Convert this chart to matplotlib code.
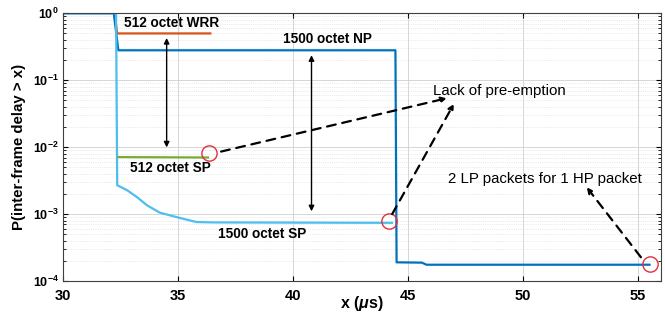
import matplotlib
matplotlib.use("Agg")
import matplotlib.pyplot as plt
import numpy as np

plt.rcParams['font.family'] = ['Liberation Sans', 'DejaVu Sans']
plt.rcParams['mathtext.fontset'] = 'custom'
plt.rcParams['mathtext.it'] = 'Liberation Sans:italic:bold'
plt.rcParams['mathtext.rm'] = 'Liberation Sans:bold'
plt.rcParams['mathtext.bf'] = 'Liberation Sans:bold'

# Data (x in microseconds, y = CCDF)
np_x = [30, 32.2, 32.4, 44.45, 44.5, 45.6, 45.8, 55.5]
np_y = [1.0, 1.0, 0.28, 0.28, 1.9e-4, 1.88e-4, 1.75e-4, 1.75e-4]

sp1500_x = [30, 32.3, 32.35, 32.8, 33.2, 33.65, 34.2, 35.1, 35.8, 36.5, 44.3]
sp1500_y = [1.0, 1.0, 2.7e-3, 2.25e-3, 1.8e-3, 1.35e-3, 1.05e-3, 8.7e-4, 7.6e-4, 7.5e-4, 7.4e-4]

wrr512_x = [32.25, 32.35, 36.4]
wrr512_y = [0.9, 0.5, 0.5]

sp512_x = [32.4, 36.3]
sp512_y = [7.1e-3, 7.0e-3]

circles_x = [36.35, 44.15, 55.5]
circles_y = [8.1e-3, 7.9e-4, 1.78e-4]

yticks = [1e-4, 1e-3, 1e-2, 1e-1, 1]
ytick_labels = [r'$\mathbf{10^{-4}}$', r'$\mathbf{10^{-3}}$', r'$\mathbf{10^{-2}}$',
                r'$\mathbf{10^{-1}}$', r'$\mathbf{10^{0}}$']
xticks = [30, 35, 40, 45, 50, 55]

fig = plt.figure(figsize=(6.65, 3.12), dpi=100)
ax = fig.add_axes([0.095, 0.0994, 0.899, 0.858])

c_np = '#0072BD'
c_sp = '#4DBEEE'
c_wrr = '#D95319'
c_sp512 = '#77AC30'

ax.plot(wrr512_x, wrr512_y, color=c_wrr, lw=1.6)
ax.plot(np_x, np_y, color=c_np, lw=1.6)
ax.plot(sp1500_x, sp1500_y, color=c_sp, lw=1.6)
ax.plot(sp512_x, sp512_y, color=c_sp512, lw=1.6)

ax.set_yscale('log')
ax.set_xlim(30, 56)
ax.set_ylim(1e-4, 1)
ax.set_xticks(xticks)
ax.set_yticks(yticks)
ax.set_yticklabels(ytick_labels)
ax.grid(True, which='major', color='#d0d0d0', lw=0.6)
ax.grid(True, which='minor', axis='y', color='#d8d8d8', lw=0.5, ls=':')
ax.tick_params(which='both', direction='in', top=True, right=True)
ax.tick_params(axis='x', which='major', labelsize=10.5, pad=6)
ax.tick_params(axis='y', which='major', labelsize=9, pad=3)
for lab in ax.get_xticklabels():
    lab.set_fontweight('bold')
for s in ax.spines.values():
    s.set_color('#404040')

ax.set_xlabel(r'x ($\mu$s)', fontsize=11.5, fontweight='bold')
ax.xaxis.set_label_coords(0.5, -0.05)
ax.set_ylabel('P(inter-frame delay > x)', fontsize=10.8, fontweight='bold')
ax.yaxis.set_label_coords(-0.062, 0.5)

# circles
ax.plot(circles_x, circles_y, 'o', ms=11, mfc='none', mec='#e03040', mew=1.0)

# double arrows
ax.annotate('', xy=(34.5, 0.47), xytext=(34.5, 9e-3),
            arrowprops=dict(arrowstyle='<|-|>', color='black', lw=1.0, mutation_scale=8))
ax.annotate('', xy=(40.8, 0.26), xytext=(40.8, 1.0e-3),
            arrowprops=dict(arrowstyle='<|-|>', color='black', lw=1.0, mutation_scale=8))

# dashed arrows
dash = dict(arrowstyle='-|>', color='black', lw=1.6, ls=(0, (4, 3)), mutation_scale=8)
ax.annotate('', xy=(46.8, 0.055), xytext=(36.75, 8.4e-3), arrowprops=dash)
ax.annotate('', xy=(47.05, 0.048), xytext=(44.25, 9.2e-4), arrowprops=dash)
ax.annotate('', xy=(52.7, 2.7e-3), xytext=(55.2, 2.1e-4), arrowprops=dash)

# labels
bold = dict(fontsize=9.8, fontweight='bold', ha='center', va='center')
ax.text(34.7, 0.71, '512 octet WRR', **bold)
ax.text(41.5, 0.42, '1500 octet NP', **bold)
ax.text(34.65, 4.9e-3, '512 octet SP', **bold)
ax.text(38.65, 5.1e-4, '1500 octet SP', **bold)
ax.text(46.1, 0.07, 'Lack of pre-emption', fontsize=10.8, ha='left', va='center')
ax.text(50.96, 3.3e-3, '2 LP packets for 1 HP packet', fontsize=10.8, ha='center', va='center')

fig.savefig('out.png', dpi=100)
